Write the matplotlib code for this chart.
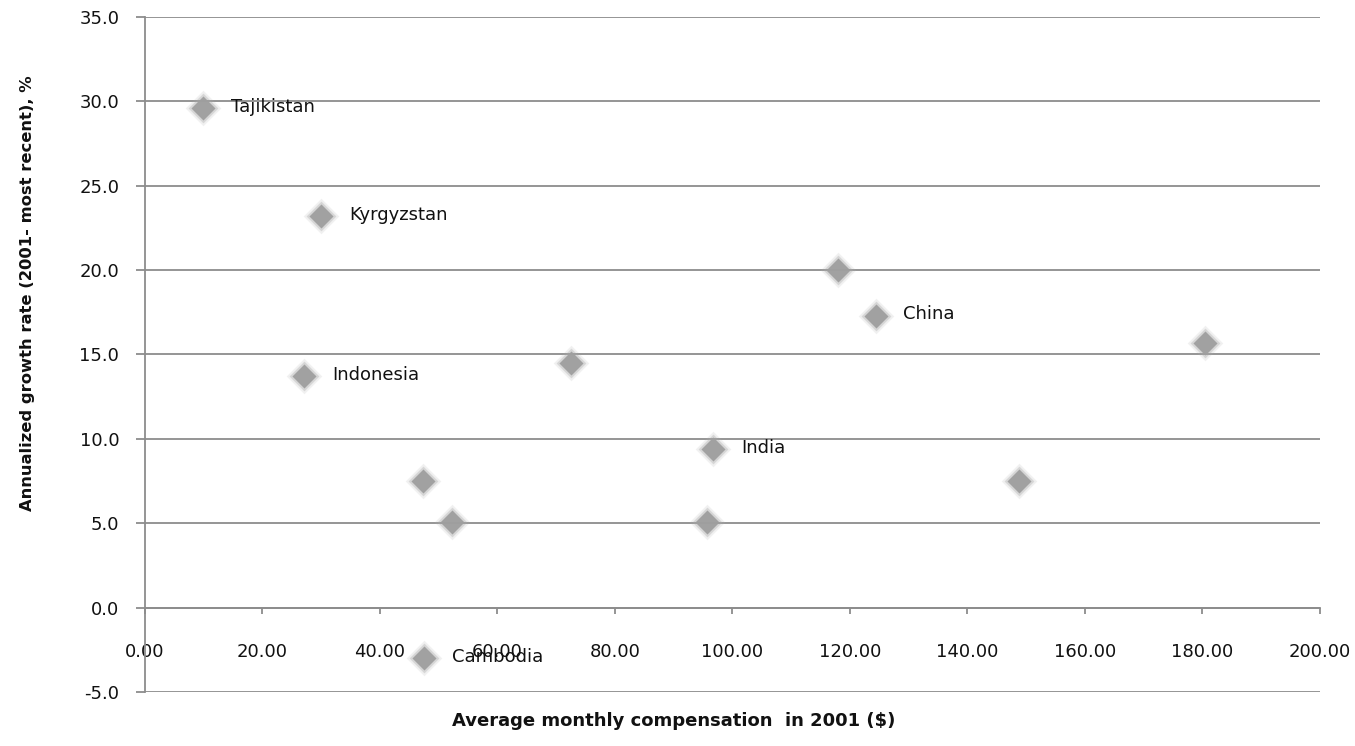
import matplotlib
matplotlib.use("Agg")
import matplotlib.pyplot as plt
from matplotlib.ticker import FormatStrFormatter

compensation = [9.9, 30.0, 118.0, 124.4, 180.4, 27.1, 72.5, 96.7, 148.8, 47.3, 52.3, 95.7, 47.5]
growth = [29.6, 23.2, 20.0, 17.3, 15.7, 13.7, 14.5, 9.4, 7.5, 7.5, 5.1, 5.1, -3.0]
labels = ["Tajikistan", "Kyrgyzstan", "", "China", "", "Indonesia", "", "India", "", "", "", "", "Cambodia"]

x_ticks = [0, 20, 40, 60, 80, 100, 120, 140, 160, 180, 200]
y_ticks = [-5, 0, 5, 10, 15, 20, 25, 30, 35]

plt.rcParams['font.family'] = ['DejaVu Sans']
grey = '#8c8c8c'

fig = plt.figure(figsize=(13.55, 7.46), dpi=100)
ax = fig.add_axes([0.107, 0.0724, 0.867, 0.905])

# soft diamond markers
ax.scatter(compensation, growth, marker='D', s=330, color='#b0b0b0', alpha=0.18, linewidths=0, zorder=3)
ax.scatter(compensation, growth, marker='D', s=230, color='#a8a8a8', alpha=0.35, linewidths=0, zorder=3)
ax.scatter(compensation, growth, marker='D', s=150, color='#9e9e9e', alpha=0.95, linewidths=0, zorder=4)

for xv, yv, lab in zip(compensation, growth, labels):
    if lab:
        ax.annotate(lab, (xv, yv), xytext=(20, 1), textcoords='offset points',
                    va='center', ha='left', fontsize=13, color='#111111', zorder=5)

ax.set_xlim(0, 200)
ax.set_ylim(-5, 35)
ax.set_xticks(x_ticks)
ax.set_yticks(y_ticks)
ax.xaxis.set_major_formatter(FormatStrFormatter('%.2f'))
ax.yaxis.set_major_formatter(FormatStrFormatter('%.1f'))

for s in ['top', 'right']:
    ax.spines[s].set_visible(False)
ax.spines['bottom'].set_position(('data', 0))
ax.spines['bottom'].set_color(grey)
ax.spines['left'].set_color(grey)
ax.spines['bottom'].set_linewidth(1.3)
ax.spines['left'].set_linewidth(1.3)

ax.yaxis.grid(True, color=grey, linewidth=1.3)
ax.set_axisbelow(True)

ax.tick_params(axis='y', direction='out', length=6.5, width=1.3, color=grey, pad=12,
               labelsize=13, labelcolor='#111111')
ax.tick_params(axis='x', direction='out', length=4.5, width=1.3, color=grey, pad=21,
               labelsize=13, labelcolor='#111111')

fig.text(0.497, 0.034, 'Average monthly compensation  in 2001 ($)', fontsize=13, fontweight='bold',
         ha='center', va='center', color='#111111')
fig.text(0.02, 0.607, 'Annualized growth rate (2001- most recent), %', fontsize=11.8, fontweight='bold',
         ha='center', va='center', rotation=90, color='#111111')

fig.savefig('out.png', dpi=100)
